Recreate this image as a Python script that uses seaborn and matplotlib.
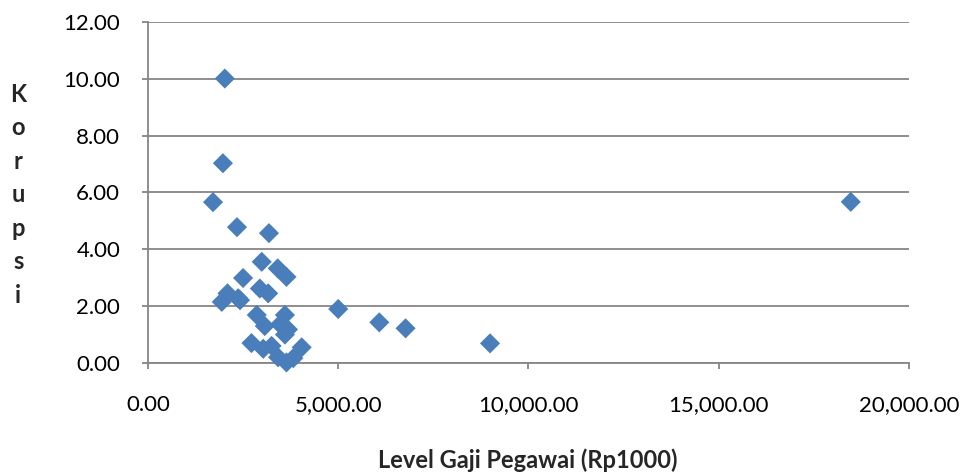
import matplotlib
matplotlib.use("Agg")
import matplotlib.pyplot as plt
import seaborn as sns
import pandas as pd
from matplotlib.ticker import FuncFormatter

gaji = [2020, 1970, 1710, 2340, 3180, 2990, 2500, 3410, 3640,
        2090, 1940, 2420, 2370, 2940, 3160, 2860, 3600, 3070, 3470,
        3600, 3680, 2720, 3030, 3250, 3420, 3640, 3820, 4040,
        5000, 6080, 6770, 8990, 18470]
korupsi = [10.01, 7.03, 5.66, 4.78, 4.57, 3.56, 2.99, 3.33, 3.03,
           2.45, 2.15, 2.21, 2.28, 2.62, 2.45, 1.69, 1.69, 1.30, 1.36,
           1.00, 1.18, 0.70, 0.50, 0.60, 0.20, 0.02, 0.17, 0.55,
           1.90, 1.43, 1.22, 0.69, 5.67]

x_ticks = [0, 5000, 10000, 15000, 20000]
y_ticks = [0, 2, 4, 6, 8, 10, 12]

df = pd.DataFrame({"gaji": gaji, "korupsi": korupsi})

sns.set_style("white")
plt.rcParams["font.family"] = ["Lato", "DejaVu Sans"]

fig = plt.figure(figsize=(9.67, 4.73), dpi=100)
ax = fig.add_axes([0.153, 0.2326, 0.787, 0.7209])

sns.scatterplot(data=df, x="gaji", y="korupsi", marker="D", s=105,
                color="#4A7EBB", edgecolor="none", ax=ax, zorder=3, clip_on=False)

ax.set_xlim(0, 20000)
ax.set_ylim(0, 12)
ax.set_xticks(x_ticks)
ax.set_yticks(y_ticks)
ax.xaxis.set_major_formatter(FuncFormatter(lambda v, p: f"{v:,.2f}"))
ax.yaxis.set_major_formatter(FuncFormatter(lambda v, p: f"{v:.2f}"))

ax.grid(axis="y", color="#868686", linewidth=1.3)
ax.grid(axis="x", visible=False)
ax.set_axisbelow(True)
for side in ["top", "right"]:
    ax.spines[side].set_visible(False)
for side in ["left", "bottom"]:
    ax.spines[side].set_color("#868686")
    ax.spines[side].set_linewidth(1.3)

ax.tick_params(axis="y", direction="out", length=4, width=1.3, color="#868686",
               pad=16, labelsize=16, labelcolor="black", left=True)
ax.tick_params(axis="x", direction="out", length=4, width=1.3, color="#868686",
               pad=19, labelsize=16, labelcolor="black", bottom=True)

ax.set_xlabel("")
ax.set_ylabel("")
fig.text(0.5455, 0.028, "Level Gaji Pegawai (Rp1000)", ha="center", va="center",
         fontsize=17, fontweight="bold")
fig.text(0.019, 0.588, "\n".join("Korupsi"), ha="center", va="center",
         fontsize=17, fontweight="bold", linespacing=1.55)

fig.savefig("out.png", dpi=100)
